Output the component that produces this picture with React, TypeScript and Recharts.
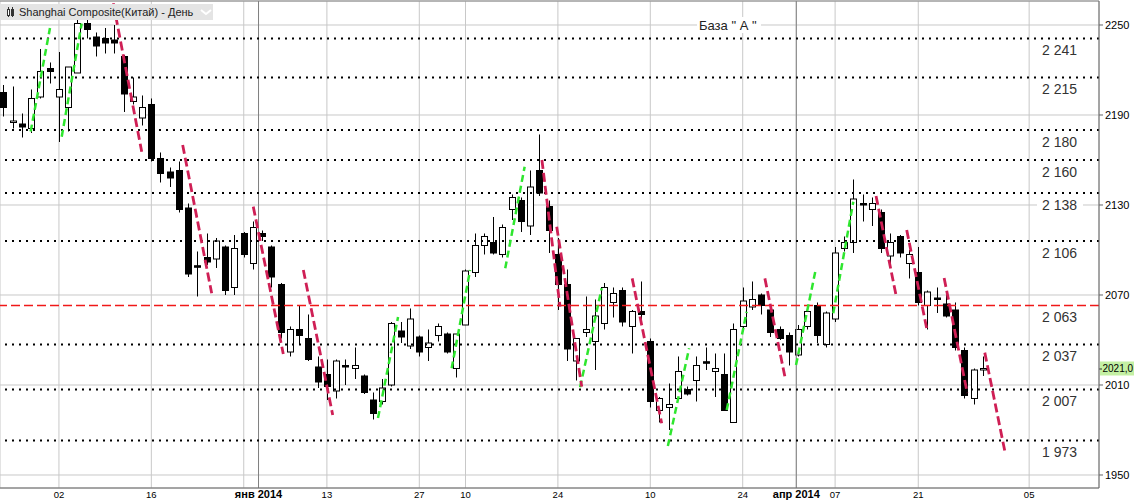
import { ComposedChart, Bar, XAxis, YAxis, CartesianGrid, ReferenceLine } from 'recharts'

// daily candles, Nov 22 2013 .. Apr 30 2014 (index = trading session)
const opens = [
  2205, 2185, 2184, 2181, 2202, 2221, 2202, 2195, 2218, 2251,
  2242, 2241, 2240, 2229, 2199, 2188, 2197, 2161, 2152, 2153,
  2128, 2089.5, 2095, 2094, 2102, 2075, 2111, 2091, 2111, 2102,
  2077, 2032, 2047, 2041, 2022, 2017, 2006, 2023, 2021, 2016,
  2000, 1999, 2010, 2046, 2036, 2042, 2035, 2043, 2044, 2021,
  2050, 2085, 2103, 2105, 2097, 2127, 2133, 2116, 2153, 2129,
  2097, 2077, 2026, 2045, 2039, 2051, 2065, 2073, 2049, 2059,
  2039, 1993, 1995, 2001, 2007, 2013, 2025.5, 2019, 2017, 1985,
  2049, 2062, 2070, 2060, 2047, 2043, 2030, 2049, 2063, 2037,
  2054, 2101, 2105, 2131, 2127, 2125, 2096, 2109, 2091, 2085,
  2063, 2068, 2064, 2060, 2033, 2001, 2020.5,
]
const highs = [
  2210, 2209, 2191, 2207, 2234, 2225, 2232, 2222, 2257, 2255,
  2245, 2248, 2250, 2230, 2215, 2203, 2201, 2165, 2155, 2159,
  2131, 2099, 2111, 2108, 2103, 2110, 2112, 2119, 2113, 2103,
  2078, 2049, 2063, 2057, 2029, 2027, 2027, 2027, 2035, 2017,
  2005, 2014, 2052, 2052, 2061, 2043, 2047, 2051, 2045, 2044,
  2087, 2111, 2111, 2122, 2117, 2137, 2135, 2153, 2177, 2133,
  2108, 2087, 2041, 2069, 2067, 2078, 2075, 2075, 2060, 2079,
  2041, 2002, 2011, 2029, 2009, 2029, 2035, 2031, 2031, 2051,
  2075, 2079, 2071, 2062, 2049, 2045, 2050, 2061, 2065, 2059,
  2102, 2109, 2147, 2137, 2135, 2127, 2111, 2110, 2100, 2102,
  2073, 2075, 2071, 2065, 2035, 2021, 2029,
]
const lows = [
  2189, 2181, 2175, 2178, 2201, 2211, 2172, 2179, 2218, 2241,
  2229, 2231, 2231, 2192, 2197, 2183, 2159, 2145, 2142, 2125,
  2082, 2069, 2090, 2088, 2070, 2070, 2095, 2087, 2106, 2075,
  2041, 2029, 2037, 2026, 2008, 2000, 2001, 2010, 2014, 2004,
  1987, 1997, 2009, 2038, 2034, 2029, 2026, 2039, 2031, 2015,
  2050, 2082, 2097, 2097, 2095, 2120, 2112, 2110, 2136, 2098,
  2060, 2026, 2013, 2042, 2020, 2047, 2055, 2049, 2031, 2050,
  1995, 1985, 1980, 2000, 2003, 1999, 2020, 2002, 1993, 1985,
  2047, 2060, 2057, 2042, 2040, 2023, 2029, 2047, 2038, 2035,
  2052, 2099, 2098, 2119, 2116, 2098, 2091, 2095, 2081, 2063,
  2047, 2058, 2055, 2033, 2001, 1997, 2016,
]
const closes = [
  2195, 2186, 2182, 2201, 2219, 2219, 2207, 2222, 2251, 2247,
  2236, 2238, 2238, 2204, 2202, 2195, 2161, 2151, 2148, 2127,
  2084, 2089, 2092, 2106, 2073, 2101, 2097, 2115, 2109, 2082,
  2045, 2047, 2043, 2027, 2012, 2009, 2026, 2022.5, 2023, 2005,
  1991, 2008, 2051, 2042, 2054, 2032, 2038, 2049, 2032, 2044,
  2086, 2103, 2109, 2098, 2115, 2135, 2119, 2142, 2138, 2113,
  2077, 2034, 2041, 2047, 2056, 2075, 2071, 2052, 2059, 2057,
  1999, 2001, 1997, 2019, 2004, 2023, 2025, 2021, 1993, 2047,
  2066, 2067, 2063, 2045, 2041, 2032, 2047, 2059, 2043, 2058,
  2098, 2105, 2134, 2130.5, 2131, 2101, 2105, 2098, 2097, 2065,
  2072, 2067.5, 2056, 2035, 2003, 2020, 2021,
]

const tickIndex = [6, 16, 26, 27.6, 35, 45, 50, 60, 70, 80, 85.8, 90, 99, 111]
const tickLabels = ['02', '16', '', 'янв 2014', '13', '27', '10', '24', '10', '24', 'апр 2014', '07', '21', '05']
const monthBreaks = [27.6, 85.8]
const priceTicks = [1950, 2010, 2070, 2130, 2190, 2250]

const levels = [2241, 2215, 2180, 2160, 2138, 2106, 2037, 2007, 1973]
const baseLevel = 2063
const lastPrice = 2021.0

// [index1, price1, index2, price2]
const greenSegments = [
  [2.94, 2179, 5.03, 2248],
  [6.3, 2175.5, 8.46, 2251],
  [40.53, 1988, 42.7, 2055.3],
  [48.5, 2021.1, 50.5, 2086.7],
  [54.3, 2087.8, 56.4, 2155.5],
  [62.4, 2008.5, 64.74, 2074.5],
  [71.9, 1969.3, 74.2, 2034.5],
  [78.27, 1993.3, 80.43, 2058.9],
  [85.77, 2023.3, 87.93, 2087.8],
  [89.8, 2057.8, 91.97, 2132.2],
]
const redSegments = [
  [11.88, 2264.5, 14.96, 2165.5],
  [19.39, 2170, 22.53, 2071.1],
  [27.03, 2128.9, 30.28, 2030.7],
  [32.45, 2086.7, 35.63, 1990],
  [58.27, 2160, 60.23, 2062.2],
  [59.87, 2115.5, 62.58, 2008.9],
  [68.04, 2081.1, 71.23, 1984.5],
  [82.4, 2081.1, 84.6, 2014.5],
  [94.43, 2136, 96.59, 2070],
  [97.75, 2113.3, 99.91, 2047.8],
  [101.8, 2081.3, 104.3, 2004.7],
  [106.2, 2031.6, 108.4, 1964.9],
]

const candles = opens.map((o, i) => ({
  i,
  open: o,
  high: highs[i],
  low: lows[i],
  close: closes[i],
  range: [lows[i], highs[i]],
}))

const fmtLevel = (v: number) => `${Math.floor(v / 1000)} ${String(v % 1000).padStart(3, '0')}`

function Candle(props: any) {
  const { x, y, width, height, payload } = props
  const { open, close, high, low } = payload
  const py = (v: number) => y + ((high - v) / (high - low)) * height
  const cx = Math.round(x + width / 2) + 0.5
  const up = close > open
  const top = py(Math.max(open, close))
  const bot = py(Math.min(open, close))
  const h = Math.max(bot - top, 1.5)
  return (
    <g>
      <line x1={cx} x2={cx} y1={y} y2={y + height} stroke="#000" strokeWidth={1} />
      <rect x={cx - 3} y={top} width={6} height={h} fill={up ? '#fff' : '#000'} stroke="#000" strokeWidth={1} />
    </g>
  )
}

function DateTick(props: any) {
  const { x, y, payload } = props
  const label = tickLabels[tickIndex.indexOf(payload.value)]
  const bold = label.length > 2
  return (
    <text
      x={x}
      y={y + 10}
      textAnchor="middle"
      fill="#000"
      fontSize={bold ? 11 : 9.5}
      fontWeight={bold ? 'bold' : 'normal'}
      fontFamily={bold ? 'Liberation Sans' : "'Liberation Sans Narrow', 'Liberation Sans'"}
    >
      {label}
    </text>
  )
}

const levelLabel = (text: string) => (props: any) => {
  const vb = props.viewBox || props
  const right = vb.x + vb.width
  return (
    <g>
      <rect x={right - 62} y={vb.y + 3} width={46} height={18} fill="#fff" />
      <text x={right - 22} y={vb.y + 17} textAnchor="end" fontSize={14} fill="#333">
        {text}
      </text>
    </g>
  )
}

const baseLabel = (props: any) => {
  const vb = props.viewBox || props
  return (
    <g>
      <rect x={vb.x + 697} y={vb.y - 8} width={64} height={16} fill="#fff" />
      <text x={vb.x + 699} y={vb.y + 5} fontSize={13} fill="#222">
        База " А "
      </text>
    </g>
  )
}

const priceMarker = (props: any) => {
  const vb = props.viewBox || props
  const right = vb.x + vb.width
  return (
    <g>
      <rect x={right + 1} y={vb.y - 7} width={40} height={14} fill="#c4f0a4" />
      <line x1={right} x2={right + 3} y1={vb.y + 0.5} y2={vb.y + 0.5} stroke="#333" />
      <text x={right + 3.5} y={vb.y + 4} fontSize={10} fill="#000">
        {lastPrice.toFixed(1).replace('.', ',')}
      </text>
    </g>
  )
}

export default function App() {
  return (
    <div style={{ position: 'absolute', left: 0, top: 0, width: 1134, height: 501, background: '#fff', fontFamily: "'Liberation Sans', Arial, sans-serif" }}>
      <ComposedChart width={1134} height={501} data={candles} margin={{ top: 1, right: 0, bottom: 0, left: 0 }}>
        <CartesianGrid stroke="#c8c8c8" />
        <XAxis
          type="number"
          dataKey="i"
          domain={[-0.379, 118.56]}
          ticks={tickIndex}
          interval={0}
          allowDataOverflow
          height={13}
          tickSize={0}
          tickMargin={0}
          tickLine={false}
          axisLine={{ stroke: '#666' }}
          tick={<DateTick />}
        />
        <YAxis
          orientation="right"
          domain={[1941.33, 2266]}
          ticks={priceTicks}
          interval={0}
          allowDataOverflow
          width={35}
          tickSize={4}
          tickMargin={2}
          axisLine={{ stroke: '#666' }}
          tickLine={{ stroke: '#666' }}
          tick={{ fontSize: 11, fill: '#000' }}
        />
        <ReferenceLine y={2266} stroke="#888" />
        {monthBreaks.map((m) => (
          <ReferenceLine key={m} x={m} stroke="#808080" />
        ))}
        <ReferenceLine y={2250} stroke="none" label={baseLabel} />
        {levels.map((v) => (
          <ReferenceLine key={v} y={v} stroke="#000" strokeWidth={2} strokeDasharray="2 5" label={levelLabel(fmtLevel(v))} />
        ))}
        <ReferenceLine y={baseLevel} stroke="#f01818" strokeWidth={1.6} strokeDasharray="9 4" label={levelLabel(fmtLevel(baseLevel))} />
        <ReferenceLine y={lastPrice} stroke="none" label={priceMarker} />
        <Bar dataKey="range" barSize={7} isAnimationActive={false} shape={(p: any) => <Candle {...p} />} />
        {greenSegments.map((s, k) => (
          <ReferenceLine
            key={'g' + k}
            segment={[{ x: s[0], y: s[1] }, { x: s[2], y: s[3] }]}
            stroke="#2ee62e"
            strokeWidth={2.5}
            strokeDasharray="7 4"
          />
        ))}
        {redSegments.map((s, k) => (
          <ReferenceLine
            key={'r' + k}
            segment={[{ x: s[0], y: s[1] }, { x: s[2], y: s[3] }]}
            stroke="#cf1f55"
            strokeWidth={2.8}
            strokeDasharray="9 4"
          />
        ))}
      </ComposedChart>
      <div style={{ position: 'absolute', left: 0, top: 4, width: 213, height: 16, background: '#e4e4e4', display: 'flex', alignItems: 'center', fontSize: 11, color: '#222', whiteSpace: 'nowrap' }}>
        <svg width={19} height={16} style={{ flex: 'none' }}>
          <line x1={8.5} x2={8.5} y1={3} y2={13} stroke="#333" />
          <rect x={7.5} y={5.5} width={2} height={6} fill="#fff" stroke="#333" />
          <line x1={12.5} x2={12.5} y1={3} y2={13} stroke="#333" />
          <rect x={11.5} y={5.5} width={2} height={6} fill="#333" stroke="#333" />
        </svg>
        <span>Shanghai Composite(Китай) - День</span>
        <svg width={16} height={16} style={{ flex: 'none', marginLeft: 5 }}>
          <polyline points="3,6 8,10 13,6" fill="none" stroke="#fff" strokeWidth={2} />
        </svg>
      </div>
    </div>
  )
}
